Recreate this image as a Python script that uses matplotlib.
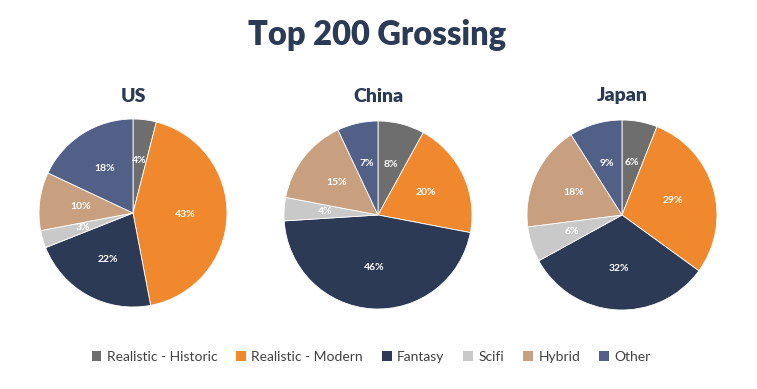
import matplotlib
matplotlib.use("Agg")
import matplotlib.pyplot as plt
from matplotlib.patches import Patch

categories = ["Realistic - Historic", "Realistic - Modern", "Fantasy", "Scifi", "Hybrid", "Other"]
colors = ["#6e6e6e", "#f0882e", "#2d3a55", "#c9c9c9", "#c9a07f", "#526087"]
regions = ["US", "China", "Japan"]
us_values = [4, 43, 22, 3, 10, 18]
china_values = [8, 20, 46, 4, 15, 7]
japan_values = [6, 29, 32, 6, 18, 9]
all_values = [us_values, china_values, japan_values]

W, H = 757, 389
fig = plt.figure(figsize=(W / 100, H / 100), dpi=100)
fig.patch.set_facecolor("white")
plt.rcParams["font.family"] = ["Lato", "DejaVu Sans"]

title_color = "#2b3a55"
fig.text(377 / W, 1 - 35 / H, "Top 200 Grossing", ha="center", va="center",
         fontsize=23.5, fontweight="heavy", color=title_color)

centers = [(133, 213, 94), (378, 215, 94), (622, 215, 95)]
for (cx, cy, r), name, vals in zip(centers, regions, all_values):
    ax = fig.add_axes([(cx - r) / W, 1 - (cy + r) / H, 2 * r / W, 2 * r / H])
    wedges, texts, autotexts = ax.pie(
        vals, colors=colors, startangle=90, counterclock=False,
        autopct=lambda p: f"{p:.0f}%", pctdistance=0.56,
        wedgeprops=dict(edgecolor="white", linewidth=0.6))
    for t in autotexts:
        t.set_color("white")
        t.set_fontsize(7.5)
        t.set_fontweight("bold")
    ax.set_xlim(-1, 1)
    ax.set_ylim(-1, 1)
    ax.set_aspect("auto")
    ax.axis("off")
    fig.text(cx / W, 1 - 96 / H, name, ha="center", va="center",
             fontsize=14, fontweight="heavy", color=title_color)

handles = [Patch(facecolor=c, edgecolor="none") for c in colors]
fig.legend(handles, categories, loc="center", bbox_to_anchor=(371 / W, 1 - 357 / H),
           ncol=6, frameon=False, fontsize=10, handlelength=0.7, handleheight=0.7,
           handletextpad=0.4, columnspacing=1.35, labelcolor="#404040")

fig.savefig("out.png", dpi=100, facecolor="white")
